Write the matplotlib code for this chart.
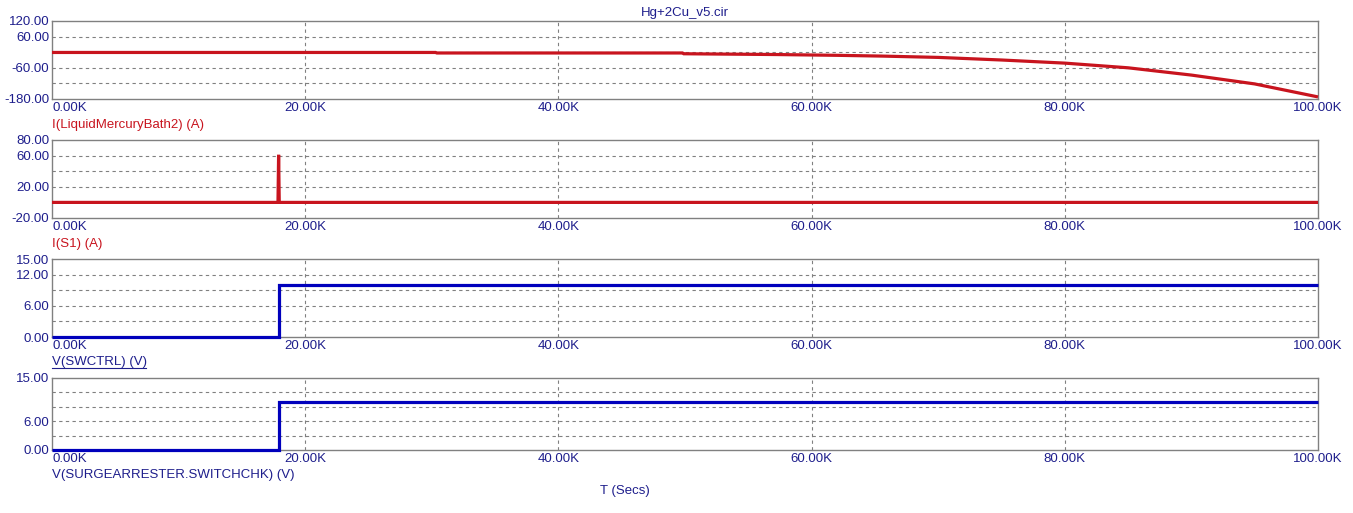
import matplotlib
matplotlib.use("Agg")
import matplotlib.pyplot as plt
from matplotlib.lines import Line2D

plt.rcParams['font.family'] = ['Liberation Sans', 'DejaVu Sans']

# --- data -------------------------------------------------------------
t_bath = [0, 30300, 30400, 49800, 49900, 57200, 62000, 65600, 70000,
          75000, 80000, 85000, 90000, 95000, 100000]
i_bath = [-1, -1, -3, -3, -6, -9, -12, -15, -20,
          -30, -42, -60, -88, -122, -172]

t_s1 = [0, 17850, 17900, 17950, 100000]
i_s1 = [0, 0, 61, 0, 0]

t_sw = [0, 17900, 17900, 100000]
v_swctrl = [0, 0, 10, 10]
v_switchchk = [0, 0, 10, 10]

x_ticks = [0, 20000, 40000, 60000, 80000, 100000]
x_labels = ['0.00K', '20.00K', '40.00K', '60.00K', '80.00K', '100.00K']

y1_ticks = [-180, -120, -60, 0, 60, 120]
y1_labels = ['-180.00', '', '-60.00', '', '60.00', '120.00']
y2_ticks = [-20, 0, 20, 40, 60, 80]
y2_labels = ['-20.00', '', '20.00', '', '60.00', '80.00']
y3_ticks = [0, 3, 6, 9, 12, 15]
y3_labels = ['0.00', '', '6.00', '', '12.00', '15.00']
y4_ticks = [0, 3, 6, 9, 12, 15]
y4_labels = ['0.00', '', '6.00', '', '', '15.00']

RED = '#c8141e'
BLUE = '#0000bc'
NAVY = '#1e1e8c'
GRID = '#808080'
FS = 9.5

W, H = 1353, 513
fig = plt.figure(figsize=(W / 100, H / 100), dpi=100)


def px_axes(top, bottom):
    left, right = 52, 1318
    return fig.add_axes([left / W, 1 - bottom / H, (right - left) / W, (bottom - top) / H])


def style(ax, yticks, ylabels):
    ax.set_xlim(0, 100000)
    ax.set_ylim(yticks[0], yticks[-1])
    ax.set_xticks(x_ticks)
    ax.set_xticklabels(x_labels)
    ax.set_yticks(yticks)
    ax.set_yticklabels(ylabels)
    ax.tick_params(length=0, labelsize=FS, labelcolor=NAVY, pad=2)
    ax.get_xticklabels()[0].set_ha('left')
    for s in ax.spines.values():
        s.set_color(GRID)
        s.set_linewidth(1)
    for y in yticks[1:-1]:
        ax.axhline(y, color=GRID, lw=0.8, ls=(0, (3, 3)), zorder=0)
    for x in x_ticks[1:-1]:
        ax.axvline(x, color=GRID, lw=0.8, ls=(0, (3, 3)), zorder=0)


def trace(ax, t, v, color):
    # drawn above the frame, like the simulator's own plot
    ax.plot(t, v, color=color, lw=2.3, clip_on=False, zorder=3,
            solid_capstyle='butt', solid_joinstyle='miter')


ax1 = px_axes(21, 99)
trace(ax1, t_bath, i_bath, RED)
style(ax1, y1_ticks, y1_labels)

ax2 = px_axes(140, 218)
trace(ax2, t_s1, i_s1, RED)
style(ax2, y2_ticks, y2_labels)

ax3 = px_axes(259, 337)
trace(ax3, t_sw, v_swctrl, BLUE)
style(ax3, y3_ticks, y3_labels)

ax4 = px_axes(378, 450)
trace(ax4, t_sw, v_switchchk, BLUE)
style(ax4, y4_ticks, y4_labels)

# series labels, title and axis name
def ftext(x, y, s, color, **kw):
    fig.text(x / W, 1 - y / H, s, color=color, fontsize=FS, va='center', **kw)

ftext(685, 13, 'Hg+2Cu_v5.cir', NAVY, ha='center')
ftext(52, 125, 'I(LiquidMercuryBath2) (A)', RED, ha='left')
ftext(52, 244, 'I(S1) (A)', RED, ha='left')
ftext(52, 362, 'V(SWCTRL) (V)', NAVY, ha='left')
fig.add_artist(Line2D([52 / W, 146 / W], [1 - 368 / H, 1 - 368 / H], color=NAVY, lw=0.8))
ftext(52, 475, 'V(SURGEARRESTER.SWITCHCHK) (V)', NAVY, ha='left')
ftext(625, 491, 'T (Secs)', NAVY, ha='center')

fig.savefig('out.png', dpi=100, facecolor='white')
